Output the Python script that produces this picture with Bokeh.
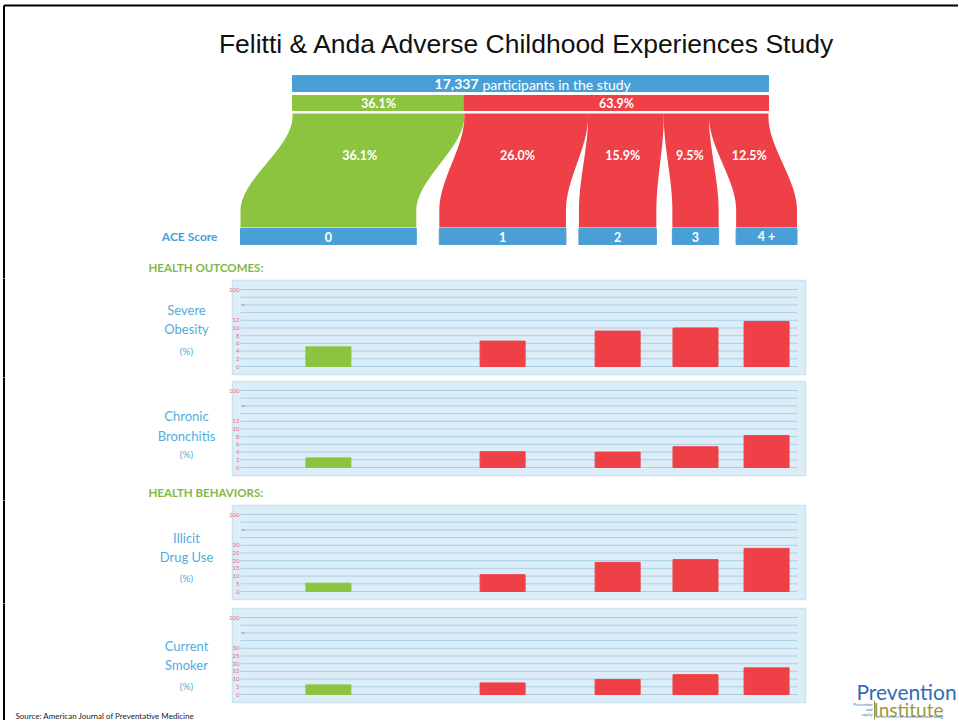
import numpy as np
from bokeh.plotting import figure
from bokeh.layouts import column
from bokeh.models import Range1d
from bokeh.core.properties import value
from bokeh.embed import file_html
from bokeh.resources import INLINE

# ---------------- data ----------------
TITLE = "Felitti & Anda Adverse Childhood Experiences Study"
participants = "17,337"
participants_text = "participants in the study"
no_ace_pct = 36.1
any_ace_pct = 63.9
ace_labels = ["0", "1", "2", "3", "4 +"]
ace_pct = [36.1, 26.0, 15.9, 9.5, 12.5]

panel_names = [["Severe", "Obesity", "(%)"],
               ["Chronic", "Bronchitis", "(%)"],
               ["Illicit", "Drug Use", "(%)"],
               ["Current", "Smoker", "(%)"]]
panel_step = [2, 2, 5, 5]
top_tick_label = "100"
severe_obesity = [5.1, 6.6, 9.2, 10.0, 11.7]
chronic_bronchitis = [2.5, 4.1, 4.0, 5.4, 8.3]
illicit_drug_use = [5.4, 10.9, 18.9, 20.7, 28.0]
current_smoker = [6.2, 7.5, 9.8, 12.9, 17.3]
panel_values = [severe_obesity, chronic_bronchitis, illicit_drug_use, current_smoker]

# ---------------- style ----------------
BLUE = "#4a9fd6"
GREEN = "#8cc43f"
RED = "#ef4047"
PANEL_BG = "#dcedf8"
PANEL_EDGE = "#cbe2f1"
GRID = "#a9cfe8"
LABEL_BLUE = "#52acdd"
TICK_PINK = "#ee6688"
HEAD_GREEN = "#80b847"
LOGO_BLUE = "#2f6db5"
LOGO_OLIVE = "#9c9a35"
FONT = "Lato"

X0, W = 0, 958
X1 = X0 + W

# top bar geometry
TOP_L, TOP_R = 292, 768
top_scale = (TOP_R - TOP_L) / 100.0
# ACE boxes geometry
BOX_L = 240
gaps = [23, 13, 16, 17.5]
box_scale = 4.87
box_left, box_right = [], []
x = BOX_L
for i, pc in enumerate(ace_pct):
    box_left.append(x)
    box_right.append(x + pc * box_scale)
    x = x + pc * box_scale + (gaps[i] if i < len(gaps) else 0)
box_center = [(a + b) / 2 for a, b in zip(box_left, box_right)]

cum = np.concatenate([[0], np.cumsum(ace_pct)])
flow_top_l = [TOP_L + c * top_scale for c in cum[:-1]]
flow_top_r = [TOP_L + c * top_scale for c in cum[1:]]

BORDER_X, BORDER_Y = 3.5, 5


def base_fig(h, yr):
    p = figure(width=W, height=h, x_range=Range1d(X0, X1), y_range=yr,
               output_backend="svg", toolbar_location=None, min_border=0,
               x_axis_location=None, y_axis_location=None, outline_line_color=None,
               background_fill_color="white", border_fill_color="white")
    p.grid.visible = False
    return p


def txt(p, x, y, t, size, color, align="center", bold=False, font=FONT):
    p.text(x=x, y=y, text=t, text_font=value(font), text_font_size=size,
           text_font_style="bold" if bold else "normal", text_align=align,
           text_baseline="middle", text_color=color)


# ---------------- Figure A: header + flow ----------------
A_TOP, A_BOT = 0, 278
fa = base_fig(A_BOT - A_TOP, Range1d(A_BOT, A_TOP))
fa.segment(x0=[BORDER_X, BORDER_X], y0=[BORDER_Y, BORDER_Y], x1=[X1 + 5, BORDER_X], y1=[BORDER_Y, A_BOT + 10],
           line_color="black", line_width=2)

txt(fa, [527], [43], [TITLE], "26.5px", "#111111", font="Liberation Sans")

fa.quad(left=[TOP_L], right=[TOP_R], top=[75], bottom=[91], color=BLUE)
txt(fa, [478], [83.5], [participants], "14px", "white", align="right", bold=True)
txt(fa, [482], [83.5], [participants_text], "14px", "white", align="left")

split = TOP_L + no_ace_pct * top_scale
fa.quad(left=[TOP_L, split], right=[split, TOP_R], top=[95, 95], bottom=[110, 110], color=[GREEN, RED])
txt(fa, [(TOP_L + split) / 2, (split + TOP_R) / 2], [102.5, 102.5],
    [f"{no_ace_pct:.1f}%", f"{any_ace_pct:.1f}%"], "12.5px", "white", bold=True)

FY0, FY1 = 113, 227
ys = np.linspace(FY0, FY1, 80)


def sstep(y):
    t = np.clip((y - 116.0) / (210.0 - 116.0), 0, 1)
    return t * t * (3 - 2 * t)


s = sstep(ys)
xs_list, ys_list = [], []
for i in range(len(ace_pct)):
    left = flow_top_l[i] + (box_left[i] - flow_top_l[i]) * s
    right = flow_top_r[i] + (box_right[i] - flow_top_r[i]) * s
    xs_list.append(np.concatenate([left, right[::-1]]))
    ys_list.append(np.concatenate([ys, ys[::-1]]))
fa.patches(xs_list, ys_list, color=[GREEN] + [RED] * (len(ace_pct) - 1), line_color=None)

ly = 155
sl = sstep(np.array([ly]))[0]
lab_x = [((flow_top_l[i] + flow_top_r[i]) / 2) * (1 - sl) + box_center[i] * sl for i in range(len(ace_pct))]
txt(fa, lab_x, [ly] * len(ace_pct), [f"{p:.1f}%" for p in ace_pct], "12.5px", "white", bold=True)

fa.quad(left=box_left, right=box_right, top=[228] * 5, bottom=[244] * 5, color=BLUE)
txt(fa, box_center, [236] * 5, ace_labels, "12.5px", "white", bold=True)
txt(fa, [217], [236], ["ACE Score"], "12px", BLUE, align="right", bold=True)
txt(fa, [148], [267], ["HEALTH OUTCOMES:"], "11.5px", HEAD_GREEN, align="left", bold=True)

# ---------------- panels ----------------
PX_L, PX_R = 232, 805
GRID_PX = 77.0
# (fig_top, fig_bot, bg_top, bg_bot)
panel_geo = [(278, 377, 280, 374), (377, 500, 381, 475), (500, 603, 505, 599), (603, 720, 608, 702)]
label_y_img = [[309, 328, 350], [415, 435, 453], [537, 556, 577], [645, 664, 685]]
bar_width = 45


def make_panel(i):
    st = panel_step[i]
    fig_top, fig_bot, bg_top, bg_bot = panel_geo[i]
    g0 = bg_bot - 8
    unit = GRID_PX / (10 * st)

    def d(yimg):
        return (g0 - yimg) / unit

    p = base_fig(fig_bot - fig_top, Range1d(d(fig_bot), d(fig_top)))
    p.segment(x0=[BORDER_X], y0=[d(fig_top - 10)], x1=[BORDER_X], y1=[d(fig_bot + 10)],
              line_color="black", line_width=2)

    p.quad(left=[PX_L], right=[PX_R], top=[d(bg_top)], bottom=[d(bg_bot)], fill_color=PANEL_BG,
           line_color=PANEL_EDGE, line_width=1.5)
    gy = [k * st for k in range(11)]
    p.segment(x0=[240] * 11, y0=gy, x1=[797] * 11, y1=gy, line_color=GRID, line_width=1)

    ticks = [k * st for k in range(7)] + [10 * st]
    tlabels = [str(t) for t in ticks[:-1]] + [top_tick_label]
    txt(p, [239] * len(ticks), ticks, tlabels, "6px", TICK_PINK, align="right")
    txt(p, [241], [8 * st], ["="], "6px", "#8899aa", align="left")

    p.vbar(x=box_center, top=panel_values[i], bottom=0, width=bar_width,
           color=[GREEN] + [RED] * 4)

    names = panel_names[i]
    ly_ = [d(v) for v in label_y_img[i]]
    txt(p, [186, 186], ly_[:2], names[:2], "13px", LABEL_BLUE)
    txt(p, [186], ly_[2:], names[2:], "10px", LABEL_BLUE)
    return p, d


panels = []
for i in range(4):
    p, d = make_panel(i)
    if i == 1:
        txt(p, [148], [d(492)], ["HEALTH BEHAVIORS:"], "11.5px", HEAD_GREEN, align="left", bold=True)
    if i == 3:
        txt(p, [15], [d(715)], ["Source: American Journal of Preventative Medicine"], "8px", "#222222",
            align="left")
        txt(p, [906], [d(691)], ["Prevention"], "21px", LOGO_BLUE)
        txt(p, [908], [d(709)], ["Institute"], "19px", LOGO_OLIVE)
        p.segment(x0=[874], y0=[d(700)], x1=[874], y1=[d(719)], line_color=LOGO_OLIVE, line_width=1)
        txt(p, [872, 872, 872], [d(704), d(709), d(714)], ["Prevention", "and", "equity"], "4px",
            LOGO_BLUE, align="right")
        txt(p, [876], [d(716)], ["at the center of community well-being"], "4px", LOGO_BLUE, align="left")
    panels.append(p)

layout = column(fa, *panels, spacing=0)

open("out.html", "w").write(file_html(layout, INLINE))
